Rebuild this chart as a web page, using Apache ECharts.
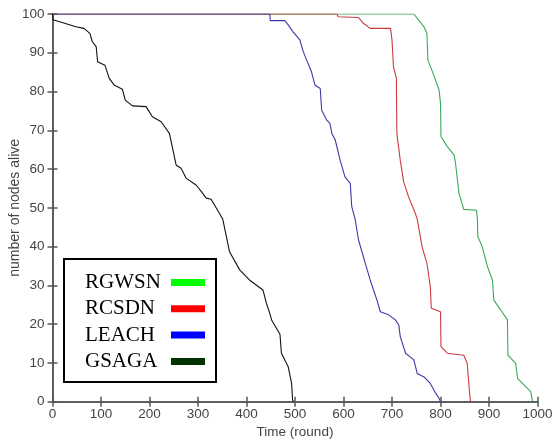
<!DOCTYPE html>
<html>
<head>
<meta charset="utf-8">
<script src="https://cdn.jsdelivr.net/npm/echarts@6/dist/echarts.min.js"></script>
<style>html,body{margin:0;padding:0;background:#fff}#c{width:553px;height:444px}</style>
</head>
<body>
<div id="c"></div>
<script>
var xTicks = [0,100,200,300,400,500,600,700,800,900,1000];
var yTicks = [0,10,20,30,40,50,60,70,80,90,100];

var gsagaRounds = [0,1,20,48,65,77,82,90,93,108,117,127,144,150,165,193,206,224,241,255,265,276,296,307,317,327,351,365,386,406,434,441,448,452,469,472,486,493,495,497];
var gsagaAlive  = [100,98.5,97.8,96.7,96.3,95,92.9,91.6,87.7,86.8,83.4,81.7,80.6,77.8,76.3,76.1,73.5,72.2,69.2,61,60.2,57.6,55.9,54.2,52.5,52.2,47.1,38.7,34,31.4,28.8,25.4,22.8,21,17.4,12.5,9,4.7,0.4,0];

var leachRounds = [0,448,449,479,486,496,510,517,524,534,541,552,555,565,572,576,583,593,603,614,617,624,631,645,655,669,676,693,707,714,717,728,745,752,766,779,790,797,800];
var leachAlive  = [100,100,98.3,98.3,97.2,95.4,93.3,90.3,88.1,85.1,81.7,80.8,75.2,72.7,71.8,69.2,67.5,62.3,58,56.3,50.3,47.1,41.7,35.7,31.4,26.2,23.2,22.4,21.1,19.8,16.8,12.5,10.8,7.3,6.4,4.7,2.2,0.9,0];

var rcsdnRounds = [0,586,589,631,641,655,697,700,703,709,710,717,724,734,748,752,762,772,779,781,800,801,814,848,855,860,862];
var rcsdnAlive  = [100,100,99.3,99.1,97.6,96.3,96.3,93.3,86.4,83.4,69.2,62.3,56.7,52.9,48.6,47.1,40,35.7,29.7,24.1,23.2,14.2,12.5,12,9.9,2.2,0];

var rgwsnRounds = [0,745,766,772,774,786,797,800,801,814,828,831,838,848,874,876,877,886,897,907,910,924,938,939,955,959,969,986,990];
var rgwsnAlive  = [100,100,96.7,95,88.1,84.3,80.4,77,68.4,65.8,63.6,61.5,53.8,49.6,49.4,47.1,42.6,40,34.8,31.4,26.2,23.7,21.1,12,9.9,6,4.7,2.6,0];

var seriesNames = ['RGWSN','RCSDN','LEACH','GSAGA'];
var lineColors = ['#3aa85a','#cc3b3b','#3a3aa8','#111111'];
var legendColors = ['#00ff00','#ff0000','#0000ff','#003300'];

function pairs(xs, ys){ return xs.map(function(x,i){ return [x, ys[i]]; }); }
var dataSets = [pairs(rgwsnRounds,rgwsnAlive), pairs(rcsdnRounds,rcsdnAlive), pairs(leachRounds,leachAlive), pairs(gsagaRounds,gsagaAlive)];

var axisColor = '#555';
var labelStyle = {color:'#444', fontFamily:'Liberation Sans, Arial', fontSize:13.5, formatter:function(v){ return String(v); }};

var chart = echarts.init(document.getElementById('c'), null, {renderer:'canvas'});
chart.setOption({
  animation:false,
  backgroundColor:'#fff',
  grid:{left:52.5, right:15.5, top:14, bottom:42.3, containLabel:false, outerBoundsMode:'none'},
  xAxis:[{
    type:'value', min:0, max:1000, interval:100, position:'bottom',
    name:'Time (round)', nameLocation:'middle', nameGap:24, nameMoveOverlap:false,
    nameTextStyle:{color:'#444', fontFamily:'Liberation Sans, Arial', fontSize:13.5},
    axisLine:{show:true, lineStyle:{color:axisColor, width:1.5}},
    axisTick:{show:true, inside:true, length:5, lineStyle:{color:axisColor, width:1.5}},
    axisLabel:Object.assign({margin:6}, labelStyle),
    splitLine:{show:false}
  },{
    type:'value', min:0, max:1000, interval:100, position:'top',
    axisLine:{show:true, lineStyle:{color:axisColor, width:1.5}},
    axisTick:{show:true, inside:true, length:5, lineStyle:{color:axisColor, width:1.5}},
    axisLabel:{show:false}, splitLine:{show:false}
  }],
  yAxis:[{
    type:'value', min:0, max:100, interval:10, position:'left',
    name:'number of nodes alive', nameLocation:'middle', nameGap:30, nameMoveOverlap:false,
    nameTextStyle:{color:'#444', fontFamily:'Liberation Sans, Arial', fontSize:14},
    axisLine:{show:true, lineStyle:{color:axisColor, width:1.5}},
    axisTick:{show:true, inside:true, length:5, lineStyle:{color:axisColor, width:1.5}},
    axisLabel:Object.assign({margin:8}, labelStyle),
    splitLine:{show:false}
  },{
    type:'value', min:0, max:100, interval:10, position:'right',
    axisLine:{show:true, lineStyle:{color:axisColor, width:1.5}},
    axisTick:{show:true, inside:true, length:5, lineStyle:{color:axisColor, width:1.5}},
    axisLabel:{show:false}, splitLine:{show:false}
  }],
  legend:{
    show:true, orient:'vertical', align:'right', left:64, top:259,
    icon:'rect', itemWidth:34, itemHeight:7, itemGap:5.3,
    borderColor:'#000', borderWidth:2, backgroundColor:'#fff',
    padding:[13,11,10,21],
    formatter:function(n){ return '{t|' + n + '}'; },
    textStyle:{color:'#000', fontFamily:'Liberation Serif, Times New Roman', fontSize:21, lineHeight:21,
      rich:{t:{width:81, align:'left', color:'#000', fontFamily:'Liberation Serif, Times New Roman', fontSize:21, lineHeight:21}}},
    data:seriesNames.map(function(n,i){ return {name:n, itemStyle:{color:legendColors[i]}}; })
  },
  series:seriesNames.map(function(n,i){
    return {
      name:n, type:'line', xAxisIndex:0, yAxisIndex:0,
      data:dataSets[i], showSymbol:false, symbol:'none',
      lineStyle:{color:lineColors[i], width:1.1},
      itemStyle:{color:lineColors[i]},
      z:2
    };
  })
});
</script>
</body>
</html>
